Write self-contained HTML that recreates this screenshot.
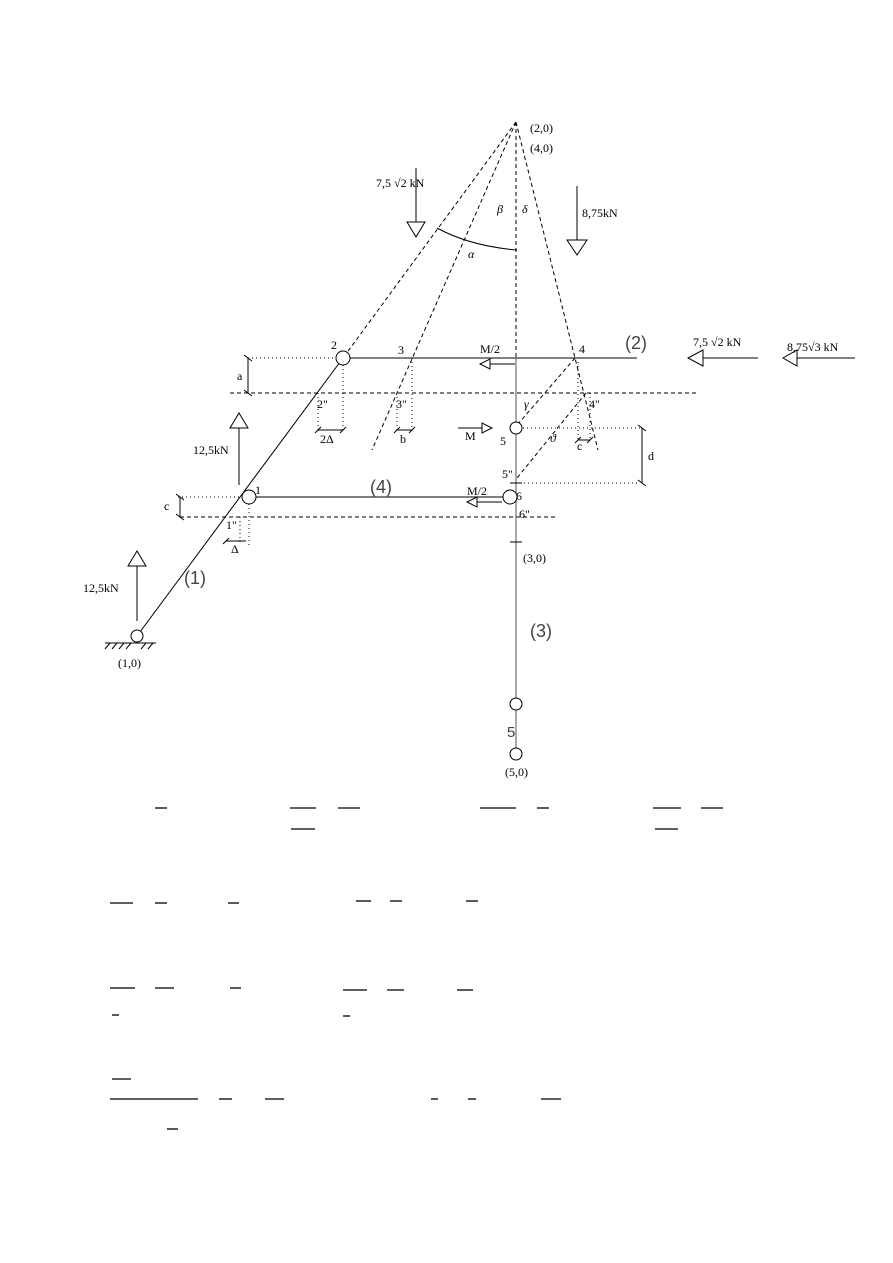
<!DOCTYPE html>
<html><head><meta charset="utf-8"><style>
html,body{margin:0;padding:0;background:#fff;}
svg{display:block;}
text{font-family:"Liberation Serif",serif;font-size:12px;fill:#000;}
.b{font-family:"Liberation Sans",sans-serif;font-size:18px;fill:#444;font-weight:normal;}
</style></head><body>
<svg width="893" height="1263" viewBox="0 0 893 1263" xmlns="http://www.w3.org/2000/svg">
<g fill="none" stroke="#000" stroke-width="1">
<!-- dashed construction lines from apex -->
<g stroke-dasharray="4,3">
<line x1="516" y1="122" x2="343" y2="358"/>
<line x1="516" y1="122" x2="372" y2="450"/>
<line x1="516" y1="122" x2="598" y2="450"/>
<line x1="516" y1="122" x2="516" y2="358"/>
<line x1="230" y1="393" x2="697" y2="393"/>
<line x1="180" y1="517" x2="557" y2="517"/>
<line x1="575" y1="358" x2="518" y2="424"/>
<line x1="586" y1="393" x2="517" y2="478"/>
</g>
<!-- dotted -->
<g stroke-dasharray="1,3">
<line x1="248" y1="358" x2="336" y2="358"/>
<line x1="343" y1="365" x2="343" y2="432"/>
<line x1="318" y1="393" x2="318" y2="432"/>
<line x1="412" y1="358" x2="412" y2="432"/>
<line x1="397" y1="393" x2="397" y2="432"/>
<line x1="578" y1="362" x2="578" y2="440"/>
<line x1="590" y1="393" x2="590" y2="440"/>
<line x1="523" y1="428" x2="640" y2="428"/>
<line x1="516" y1="483" x2="640" y2="483"/>
<line x1="178" y1="497" x2="242" y2="497"/>
<line x1="240" y1="517" x2="240" y2="545"/>
<line x1="249" y1="504" x2="249" y2="545"/>
</g>
<!-- members -->
<line x1="137" y1="636" x2="343" y2="358"/>
<line x1="350" y1="358" x2="637" y2="358"/>
<line x1="256" y1="497" x2="503" y2="497"/>
<line x1="516" y1="358" x2="516" y2="748" stroke="#555"/>
<circle cx="343" cy="358" r="7" fill="#fff"/>
<circle cx="249" cy="497" r="7" fill="#fff"/>
<circle cx="510" cy="497" r="7" fill="#fff"/>
<circle cx="516" cy="428" r="6" fill="#fff"/>
<circle cx="516" cy="704" r="6" fill="#fff"/>
<circle cx="516" cy="754" r="6" fill="#fff"/>
<circle cx="137" cy="636" r="6" fill="#fff"/>
<line x1="105" y1="643" x2="156" y2="643"/>
<g><line x1="105" y1="649" x2="110" y2="643"/><line x1="112" y1="649" x2="117" y2="643"/><line x1="119" y1="649" x2="124" y2="643"/><line x1="126" y1="649" x2="131" y2="643"/><line x1="141" y1="649" x2="146" y2="643"/><line x1="148" y1="649" x2="153" y2="643"/></g>
<line x1="510" y1="483" x2="522" y2="483"/>
<line x1="510" y1="542" x2="522" y2="542"/>
<!-- dims -->
<line x1="248" y1="358" x2="248" y2="393"/><line x1="244" y1="355" x2="252" y2="361"/><line x1="244" y1="390" x2="252" y2="396"/>
<line x1="642" y1="428" x2="642" y2="483"/><line x1="638" y1="425" x2="646" y2="431"/><line x1="638" y1="480" x2="646" y2="486"/>
<line x1="180" y1="497" x2="180" y2="517"/><line x1="176" y1="494" x2="184" y2="500"/><line x1="176" y1="514" x2="184" y2="520"/>
<line x1="318" y1="430" x2="343" y2="430"/><line x1="315" y1="433" x2="321" y2="427"/><line x1="340" y1="433" x2="346" y2="427"/>
<line x1="397" y1="430" x2="412" y2="430"/><line x1="394" y1="433" x2="400" y2="427"/><line x1="409" y1="433" x2="415" y2="427"/>
<line x1="578" y1="440" x2="590" y2="440"/><line x1="575" y1="443" x2="581" y2="437"/><line x1="587" y1="443" x2="593" y2="437"/>
<line x1="226" y1="541" x2="246" y2="541"/><line x1="223" y1="544" x2="229" y2="538"/>
<!-- arc alpha -->
<path d="M437 228 Q470 246 517 250"/>
<!-- forces -->
<line x1="416" y1="168" x2="416" y2="222"/><polygon points="407,222 425,222 416,237" fill="#fff"/>
<line x1="577" y1="186" x2="577" y2="240"/><polygon points="567,240 587,240 577,255" fill="#fff"/>
<line x1="239" y1="485" x2="239" y2="428"/><polygon points="230,428 248,428 239,413" fill="#fff"/>
<line x1="137" y1="621" x2="137" y2="566"/><polygon points="128,566 146,566 137,551" fill="#fff"/>
<line x1="758" y1="358" x2="703" y2="358"/><polygon points="703,350 703,366 688,358" fill="#fff"/>
<line x1="855" y1="358" x2="797" y2="358"/><polygon points="797,350 797,366 783,358" fill="#fff"/>
<line x1="515" y1="364" x2="490" y2="364"/><polygon points="490,359 490,369 480,364" fill="#fff"/>
<line x1="458" y1="428" x2="482" y2="428"/><polygon points="482,423 482,433 492,428" fill="#fff"/>
<line x1="502" y1="502" x2="477" y2="502"/><polygon points="477,497 477,507 467,502" fill="#fff"/>
<!-- formula bars -->
<g stroke-width="1.3">
<line x1="155" y1="808" x2="167" y2="808"/><line x1="290" y1="808" x2="316" y2="808"/><line x1="338" y1="808" x2="360" y2="808"/><line x1="480" y1="808" x2="516" y2="808"/><line x1="537" y1="808" x2="549" y2="808"/><line x1="653" y1="808" x2="681" y2="808"/><line x1="701" y1="808" x2="723" y2="808"/>
<line x1="291" y1="829" x2="315" y2="829"/><line x1="655" y1="829" x2="678" y2="829"/>
<line x1="110" y1="903" x2="133" y2="903"/><line x1="155" y1="903" x2="167" y2="903"/><line x1="228" y1="903" x2="239" y2="903"/><line x1="356" y1="901" x2="371" y2="901"/><line x1="390" y1="901" x2="402" y2="901"/><line x1="466" y1="901" x2="478" y2="901"/>
<line x1="110" y1="988" x2="135" y2="988"/><line x1="155" y1="988" x2="174" y2="988"/><line x1="230" y1="988" x2="241" y2="988"/><line x1="343" y1="990" x2="367" y2="990"/><line x1="387" y1="990" x2="404" y2="990"/><line x1="457" y1="990" x2="473" y2="990"/>
<line x1="112" y1="1015" x2="119" y2="1015"/><line x1="343" y1="1016" x2="350" y2="1016"/>
<line x1="112" y1="1079" x2="131" y2="1079"/>
<line x1="110" y1="1099" x2="198" y2="1099"/><line x1="219" y1="1099" x2="232" y2="1099"/><line x1="265" y1="1099" x2="284" y2="1099"/><line x1="431" y1="1099" x2="438" y2="1099"/><line x1="468" y1="1099" x2="476" y2="1099"/><line x1="541" y1="1099" x2="561" y2="1099"/>
<line x1="167" y1="1129" x2="178" y2="1129"/>
</g>
</g>
<!-- labels -->
<text x="530" y="132">(2,0)</text>
<text x="530" y="152">(4,0)</text>
<text x="376" y="187">7,5 √2 kN</text>
<text x="582" y="217">8,75kN</text>
<text x="497" y="213" font-style="italic">β</text>
<text x="522" y="213" font-style="italic">δ</text>
<text x="468" y="258" font-style="italic">α</text>
<text x="331" y="349">2</text>
<text x="398" y="354">3</text>
<text x="579" y="353">4</text>
<text x="480" y="353">M/2</text>
<text x="237" y="380">a</text>
<text x="317" y="408">2"</text>
<text x="396" y="408">3"</text>
<text x="589" y="408">4"</text>
<text x="524" y="408" font-style="italic">γ</text>
<text x="320" y="443">2Δ</text>
<text x="400" y="443">b</text>
<text x="577" y="450">c</text>
<text x="465" y="440">M</text>
<text x="500" y="445">5</text>
<text x="550" y="442" font-style="italic">ϑ</text>
<text x="648" y="460">d</text>
<text x="502" y="478">5"</text>
<text x="255" y="494">1</text>
<text x="516" y="500">6</text>
<text x="467" y="495">M/2</text>
<text x="519" y="518">6"</text>
<text x="226" y="529">1"</text>
<text x="231" y="553">Δ</text>
<text x="164" y="510">c</text>
<text x="193" y="454">12,5kN</text>
<text x="83" y="592">12,5kN</text>
<text x="118" y="667">(1,0)</text>
<text x="523" y="562">(3,0)</text>
<text x="505" y="776">(5,0)</text>
<text x="693" y="346">7,5 √2 kN</text>
<text x="787" y="351">8,75√3 kN</text>
<text class="b" x="625" y="349">(2)</text>
<text class="b" x="370" y="493">(4)</text>
<text class="b" x="184" y="584">(1)</text>
<text class="b" x="530" y="637">(3)</text>
<text class="b" x="507" y="737" style="font-size:15px">5</text>
</svg>
</body></html>
